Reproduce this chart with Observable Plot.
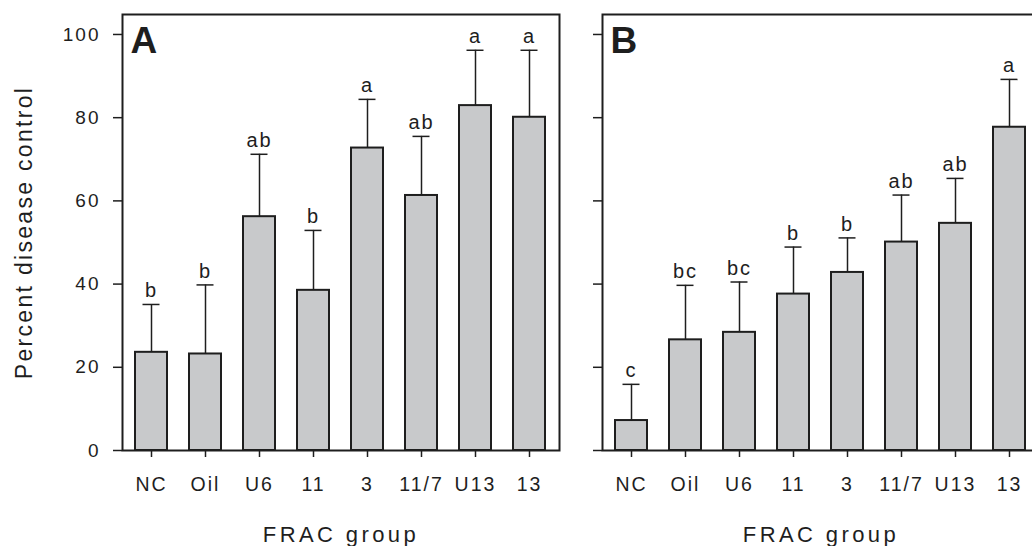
<!DOCTYPE html>
<html>
<head>
<meta charset="utf-8">
<script src="https://cdn.jsdelivr.net/npm/d3@7"></script>
<script src="https://cdn.jsdelivr.net/npm/@observablehq/plot@0.6"></script>
<style>
  html, body { margin: 0; padding: 0; background: #fff; overflow: hidden; }
  #wrap { position: relative; width: 1032px; height: 546px; overflow: hidden; }
  #panelA { position: absolute; left: 0; top: 0; width: 580px; height: 546px; }
  #panelB { position: absolute; left: 580px; top: 0; width: 460px; height: 546px; }
  #wrap svg { max-width: none !important; }
</style>
</head>
<body>
<div id="wrap"><div id="panelA"></div><div id="panelB"></div></div>
<script>
// FRAC groups (x categories)
const groups = ["NC", "Oil", "U6", "11", "3", "11/7", "U13", "13"];
const yTicks = [0, 20, 40, 60, 80, 100];

// Panel A: mean percent disease control, upper error bar end, letters
const meanA  = [23.6, 23.2, 56.2, 38.5, 72.7, 61.3, 82.9, 80.1];
const upperA = [35.1, 39.8, 71.2, 52.9, 84.4, 75.5, 96.2, 96.2];
const lettersA = ["b", "b", "ab", "b", "a", "ab", "a", "a"];

// Panel B
const meanB  = [7.2, 26.6, 28.4, 37.6, 42.8, 50.1, 54.6, 77.7];
const upperB = [15.9, 39.7, 40.5, 48.9, 51.1, 61.4, 65.4, 89.2];
const lettersB = ["c", "bc", "bc", "b", "b", "ab", "ab", "a"];

const panelLabels = ["A", "B"];
const xTitle = "FRAC group";
const yTitle = "Percent disease control";

const ink = "#1e1e1e";
const barFill = "#c8c9cb";
const font = "'Liberation Sans', Arial, Helvetica, sans-serif";

function makePanel(mean, upper, letters, label, isLeft) {
  const data = groups.map((g, i) => ({group: g, mean: mean[i], upper: upper[i], letter: letters[i]}));
  const marks = [
    Plot.barY(data, {x: "group", y: "mean", fill: barFill, stroke: ink, strokeWidth: 2}),
    Plot.ruleX(data, {x: "group", y1: "mean", y2: "upper", stroke: ink, strokeWidth: 1.5}),
    Plot.tickY(data, {x: "group", y: "upper", stroke: ink, strokeWidth: 1.5, insetLeft: 7.5, insetRight: 7.5}),
    Plot.text(data, {x: "group", y: "upper", text: "letter", dy: -7, lineAnchor: "bottom", fontSize: 20, fill: ink}),
    Plot.axisY({ticks: yTicks, tickSize: 9, tickPadding: 13, strokeWidth: 1.5, stroke: ink, fill: ink, fontSize: 19,
      tickFormat: isLeft ? (d => String(d)) : (() => ""), label: null}),
    Plot.axisX({tickSize: 7, tickPadding: 20, strokeWidth: 1.5, stroke: ink, fill: ink, fontSize: 19.5, label: null}),
    Plot.frame({stroke: ink, strokeWidth: 2}),
    Plot.text([label], {frameAnchor: "top-left", dx: 8, dy: 38, lineAnchor: "bottom", textAnchor: "start",
      fontSize: 37, fontWeight: "bold", fill: ink}),
    Plot.text([xTitle], {frameAnchor: "bottom", dy: 91, lineAnchor: "bottom", textAnchor: "middle", fontSize: 22, fill: ink})
  ];
  if (isLeft) {
    marks.push(Plot.text([yTitle], {frameAnchor: "left", rotate: -90, dx: -91, lineAnchor: "bottom",
      textAnchor: "middle", fontSize: 23, fill: ink}));
  }
  const svg = Plot.plot({
    width: isLeft ? 580 : 460,
    height: 546,
    marginLeft: isLeft ? 122 : 22,
    marginRight: isLeft ? 21 : 1,
    marginTop: 14,
    marginBottom: 96,
    style: {fontFamily: font, letterSpacing: "2px", background: "#fff", color: ink, overflow: "visible", maxWidth: "none"},
    x: {domain: groups, paddingInner: 0.4, paddingOuter: 0.2},
    y: {domain: [0, 104.8]},
    marks
  });
  // wider tracking on the axis titles, as in the reference
  d3.select(svg).selectAll("text")
    .filter(function () { return this.textContent === xTitle; })
    .style("letter-spacing", "3.4px");
  d3.select(svg).selectAll("text")
    .filter(function () { return this.textContent === yTitle; })
    .style("letter-spacing", "2.3px");
  d3.select(svg).selectAll("text")
    .filter(function () { return this.textContent === label; })
    .style("letter-spacing", "0px");
  return svg;
}

document.getElementById("panelA").appendChild(makePanel(meanA, upperA, lettersA, panelLabels[0], true));
document.getElementById("panelB").appendChild(makePanel(meanB, upperB, lettersB, panelLabels[1], false));
</script>
</body>
</html>
